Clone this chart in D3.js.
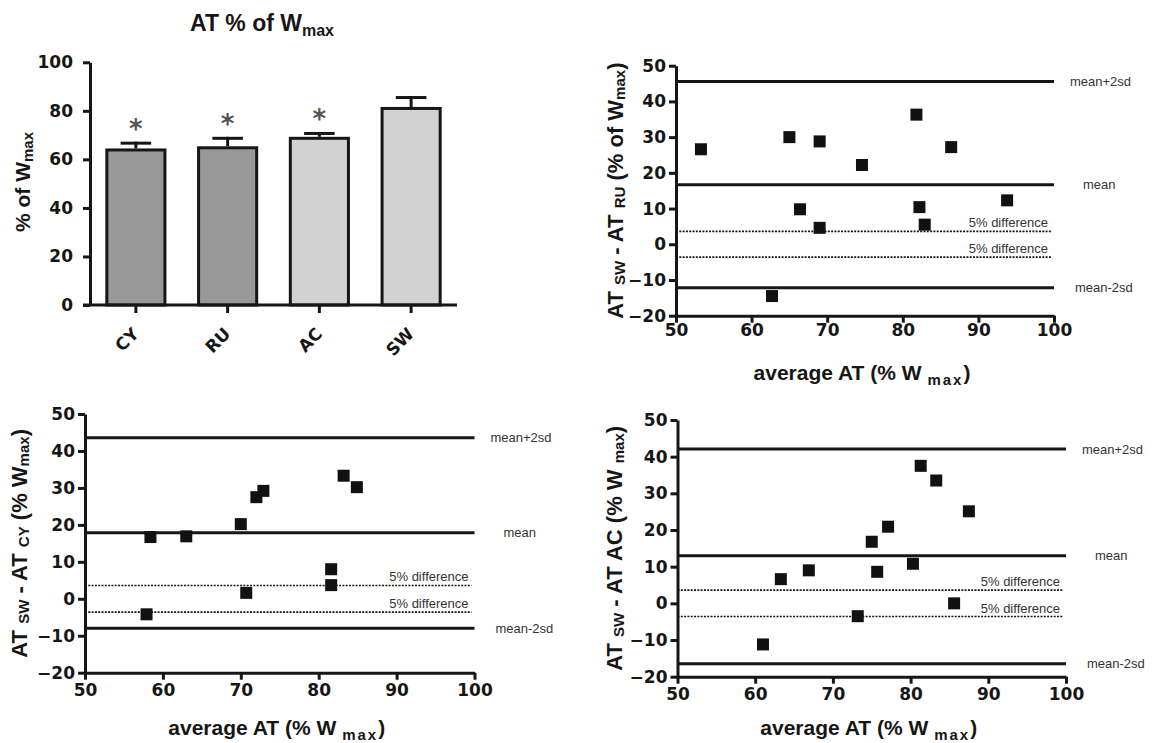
<!DOCTYPE html>
<html><head><meta charset="utf-8">
<script src="https://cdn.jsdelivr.net/npm/d3@7"></script>
<style>body{margin:0;background:#fff} svg{display:block}</style>
</head><body><svg id="c" width="1156" height="743"></svg>
<script>
// ---------- data ----------
const barCategories = ["CY", "RU", "AC", "SW"];
const barMeans = [64.5, 65.4, 69.3, 81.6];
const barErrors = [2.8, 3.9, 2.0, 4.5];
const barSignificant = [true, true, true, false];
const barYTicks = [0, 20, 40, 60, 80, 100];

const ruAvg  = [53.3, 65.0, 69.0, 74.6, 81.8, 86.4, 66.4, 69.0, 82.2, 82.9, 93.8, 62.7];
const ruDiff = [26.6, 30.0, 28.8, 22.2, 36.3, 27.2, 9.8, 4.6, 10.4, 5.5, 12.3, -14.5];
const ruLimits = [45.6, 16.7, -12.2];

const cyAvg  = [57.9, 58.4, 63.0, 70.0, 70.7, 72.0, 72.9, 81.6, 81.6, 83.2, 84.9];
const cyDiff = [-4.2, 16.7, 16.9, 20.2, 1.6, 27.5, 29.2, 8.0, 3.7, 33.3, 30.2];
const cyLimits = [43.6, 17.9, -8.0];

const acAvg  = [61.0, 63.3, 66.9, 73.2, 75.0, 75.7, 77.1, 80.3, 81.3, 83.3, 85.6, 87.5];
const acDiff = [-11.2, 6.6, 9.0, -3.5, 16.8, 8.6, 20.9, 10.8, 37.5, 33.5, 0.0, 25.1];
const acLimits = [42.1, 13.0, -16.5];

const diffBand = [3.6, -3.6];
const limitLabels = ["mean+2sd", "mean", "mean-2sd"];
const bandLabel = "5% difference";
const scatterXTicks = [50, 60, 70, 80, 90, 100];
const scatterYTicks = [-20, -10, 0, 10, 20, 30, 40, 50];

// ---------- styles ----------
const INK = "#161616";
const TICKFONT = "'DejaVu Sans', sans-serif";
const LABFONT = "'Liberation Sans', Arial, Helvetica, sans-serif";
const svg = d3.select("#c");
svg.append("rect").attr("width", 1156).attr("height", 743).attr("fill", "#fff");

function styleAxis(a) {
  a.select(".domain").attr("stroke", INK).attr("stroke-width", 3);
  a.selectAll(".tick line").attr("stroke", INK).attr("stroke-width", 3);
  a.selectAll(".tick text").attr("fill", INK).style("font-family", TICKFONT)
    .style("font-weight", "bold").style("font-size", "17px");
}

// ---------- bar chart ----------
(function () {
  const x = d3.scaleBand().domain(barCategories).range([90, 457]).paddingInner(0.334).paddingOuter(0.167);
  const y = d3.scaleLinear().domain([0, 100]).range([305, 62.3]);
  const g = svg.append("g");

  g.selectAll("rect.bar").data(barCategories).join("rect").attr("class", "bar")
    .attr("x", d => x(d) + 1.5).attr("width", x.bandwidth() - 3)
    .attr("y", (d, i) => y(barMeans[i]) + 1.5)
    .attr("height", (d, i) => y(0) - y(barMeans[i]) - 1.5)
    .attr("fill", (d, i) => i < 2 ? "#989898" : "#d1d2d1")
    .attr("stroke", INK).attr("stroke-width", 3);

  g.selectAll("line.err").data(barCategories).join("line").attr("class", "err")
    .attr("x1", d => x(d) + x.bandwidth() / 2).attr("x2", d => x(d) + x.bandwidth() / 2)
    .attr("y1", (d, i) => y(barMeans[i])).attr("y2", (d, i) => y(barMeans[i] + barErrors[i]))
    .attr("stroke", INK).attr("stroke-width", 3);
  g.selectAll("line.cap").data(barCategories).join("line").attr("class", "cap")
    .attr("x1", d => x(d) + x.bandwidth() / 4).attr("x2", d => x(d) + x.bandwidth() * 3 / 4)
    .attr("y1", (d, i) => y(barMeans[i] + barErrors[i]) + 1.5).attr("y2", (d, i) => y(barMeans[i] + barErrors[i]) + 1.5)
    .attr("stroke", INK).attr("stroke-width", 3);

  g.selectAll("text.sig").data(barCategories.filter((d, i) => barSignificant[i])).join("text").attr("class", "sig")
    .attr("x", d => x(d) + x.bandwidth() / 2)
    .attr("y", d => { const i = barCategories.indexOf(d); return y(barMeans[i] + barErrors[i]) - 4; })
    .attr("text-anchor", "middle").attr("fill", "#555")
    .style("font-family", TICKFONT).style("font-weight", "bold").style("font-size", "26px")
    .text("*");

  const ya = g.append("g").attr("transform", `translate(90,0)`)
    .call(d3.axisLeft(y).tickValues(barYTicks).tickSize(7).tickSizeOuter(0).tickPadding(10));
  styleAxis(ya);
  const xa = g.append("g").attr("transform", `translate(0,305)`)
    .call(d3.axisBottom(x).tickSize(8).tickSizeOuter(0));
  styleAxis(xa);
  xa.select(".domain").remove();
  xa.append("line").attr("x1", 83).attr("x2", 457).attr("y1", 0).attr("y2", 0)
    .attr("stroke", INK).attr("stroke-width", 3);
  xa.selectAll(".tick text").attr("x", 0).attr("y", 0).attr("dy", 0)
    .attr("text-anchor", "end").attr("transform", "translate(4,30) rotate(-45)");

  const t = svg.append("text").attr("x", 262).attr("y", 31).attr("text-anchor", "middle")
    .attr("fill", INK).style("font-family", LABFONT).style("font-weight", "bold").style("font-size", "23px");
  t.append("tspan").text("AT % of W");
  t.append("tspan").attr("dy", 5).style("font-size", "16px").text("max");

  const yl = svg.append("text").attr("transform", "translate(30,182) rotate(-90)").attr("text-anchor", "middle")
    .attr("fill", INK).style("font-family", LABFONT).style("font-weight", "bold").style("font-size", "21px");
  yl.append("tspan").text("% of W");
  yl.append("tspan").attr("dy", 3).style("font-size", "15px").text("max");
})();

// ---------- Bland-Altman panels ----------
function panel(o) {
  const x = d3.scaleLinear().domain([50, 100]).range(o.xr);
  const y = d3.scaleLinear().domain([-20, 50]).range(o.yr);
  const g = svg.append("g");

  // limit lines
  g.selectAll("line.lim").data(o.limits).join("line").attr("class", "lim")
    .attr("x1", x(50)).attr("x2", x(100)).attr("y1", d => y(d)).attr("y2", d => y(d))
    .attr("stroke", INK).attr("stroke-width", 3);
  g.selectAll("text.lim").data(o.limits).join("text").attr("class", "lim")
    .attr("x", (d, i) => x(100) + [16, 29, 21][i]).attr("y", d => y(d))
    .attr("dy", "0.35em").attr("fill", "#333")
    .style("font-family", LABFONT).style("font-size", "13px")
    .text((d, i) => limitLabels[i]);

  // 5% difference lines
  g.selectAll("line.band").data(diffBand).join("line").attr("class", "band")
    .attr("x1", x(50)).attr("x2", x(100) - 3).attr("y1", d => y(d)).attr("y2", d => y(d))
    .attr("stroke", INK).attr("stroke-width", 1.6).attr("stroke-dasharray", "2,1.3");
  g.selectAll("text.band").data(diffBand).join("text").attr("class", "band")
    .attr("x", x(100) - 6).attr("y", d => y(d) - 4).attr("text-anchor", "end").attr("fill", "#333")
    .style("font-family", LABFONT).style("font-size", "13px")
    .text(bandLabel);

  // axes
  const ya = g.append("g").attr("transform", `translate(${x(50)},0)`)
    .call(d3.axisLeft(y).tickValues(scatterYTicks).tickSize(7).tickSizeOuter(0).tickPadding(3));
  styleAxis(ya);
  const xa = g.append("g").attr("transform", `translate(0,${y(-20)})`)
    .call(d3.axisBottom(x).tickValues(scatterXTicks).tickSize(7).tickSizeOuter(0).tickPadding(o.xPad));
  styleAxis(xa);

  // points
  g.selectAll("rect.pt").data(o.avg).join("rect").attr("class", "pt")
    .attr("x", d => x(d) - 6).attr("y", (d, i) => y(o.diff[i]) - 6)
    .attr("width", 12).attr("height", 12).attr("fill", "#111");

  // y label (parts: [text, isSubscript])
  const yl = svg.append("text").attr("transform", `translate(${o.ylx},${(o.yr[0] + o.yr[1]) / 2}) rotate(-90)`)
    .attr("text-anchor", "middle").attr("fill", INK)
    .style("font-family", LABFONT).style("font-weight", "bold").style("font-size", "22px");
  o.ylabel.forEach(([s, sub], i) => {
    const prevSub = i > 0 && o.ylabel[i - 1][1];
    const ts = yl.append("tspan").text(s);
    if (sub && !prevSub) ts.attr("dy", 2);
    if (!sub && prevSub) ts.attr("dy", -2);
    if (sub) ts.style("font-size", "15px");
  });

  // x label
  const xl = svg.append("text").attr("x", (o.xr[0] + o.xr[1]) / 2 - 3).attr("y", o.xly)
    .attr("text-anchor", "middle").attr("fill", INK)
    .style("font-family", LABFONT).style("font-weight", "bold").style("font-size", "21px");
  xl.append("tspan").text("average AT (% W ");
  xl.append("tspan").attr("dy", 5).style("font-size", "15px").style("letter-spacing", "2px").text("max");
  xl.append("tspan").attr("dy", -5).text(")");
}

panel({ xr: [676, 1054], yr: [315.7, 65.7], avg: ruAvg, diff: ruDiff, limits: ruLimits,
        ylabel: [["AT ", 0], ["SW", 1], [" - AT ", 0], ["RU", 1], [" (% of W", 0], ["max", 1], [")", 0]],
        ylx: 623, xly: 380, xPad: 1 });
panel({ xr: [85, 474.5], yr: [672.7, 414], avg: cyAvg, diff: cyDiff, limits: cyLimits,
        ylabel: [["AT ", 0], ["SW", 1], [" - AT ", 0], ["CY", 1], [" (% W", 0], ["max", 1], [")", 0]],
        ylx: 27, xly: 735, xPad: 4 });
panel({ xr: [677.5, 1066], yr: [676.7, 420], avg: acAvg, diff: acDiff, limits: acLimits,
        ylabel: [["AT ", 0], ["SW", 1], [" - AT AC (% W ", 0], ["max", 1], [")", 0]],
        ylx: 622, xly: 735, xPad: 4 });
</script>
</body></html>
